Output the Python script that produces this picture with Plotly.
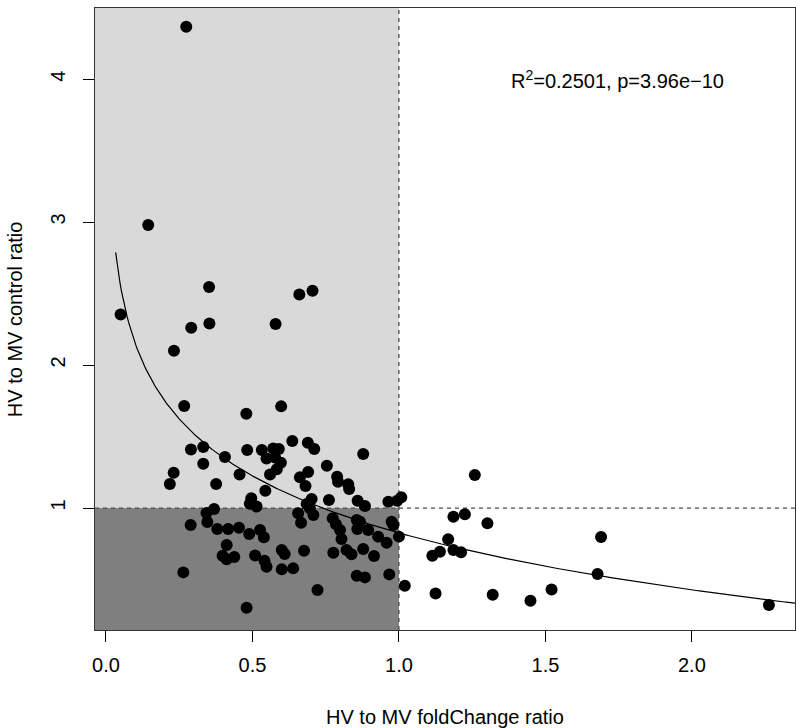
import numpy as np
import plotly.graph_objects as go

# ---- data ----
fold_change_ratio = [
    0.274, 0.144, 0.050, 0.352, 0.660, 0.705, 0.291, 0.353, 0.579, 0.232,
    0.267, 0.479, 0.598, 0.290, 0.332, 0.406, 0.482, 0.532, 0.571, 0.590,
    0.636, 0.689, 0.711, 0.548, 0.577, 0.597, 0.583, 0.560, 0.332, 0.231,
    0.218, 0.376, 0.456, 0.544, 0.496, 0.491, 0.514, 0.878, 0.754, 0.690,
    0.662, 0.681, 0.789, 0.792, 0.827, 0.830, 0.702, 0.685, 0.696, 0.761,
    0.859, 0.884, 0.964, 0.994, 1.008, 1.259,
    0.343, 0.369, 0.289, 0.346, 0.380, 0.417, 0.454, 0.489, 0.526, 0.539,
    0.412, 0.398, 0.412, 0.438, 0.509, 0.541, 0.548, 0.264, 0.480, 0.600,
    0.610, 0.676, 0.600, 0.639, 0.656, 0.666, 0.708, 0.774, 0.785, 0.799,
    0.804, 0.856, 0.867, 0.858, 0.895, 0.929, 0.958, 0.975, 0.981, 1.000,
    0.776, 0.821, 0.838, 0.878, 0.915, 0.856, 0.884, 0.967, 0.722, 1.020,
    1.186, 1.225, 1.302, 1.168, 1.186, 1.212, 1.140, 1.114, 1.125, 1.320,
    1.449, 1.521, 1.690, 1.678, 2.263,
]
control_ratio = [
    4.366, 2.980, 2.354, 2.545, 2.494, 2.520, 2.261, 2.290, 2.287, 2.100,
    1.713, 1.659, 1.711, 1.410, 1.427, 1.357, 1.406, 1.406, 1.417, 1.413,
    1.469, 1.457, 1.413, 1.347, 1.354, 1.317, 1.271, 1.235, 1.310, 1.247,
    1.168, 1.168, 1.235, 1.121, 1.068, 1.030, 1.010, 1.378, 1.296, 1.252,
    1.215, 1.154, 1.219, 1.184, 1.166, 1.133, 1.063, 1.028, 0.998, 1.056,
    1.051, 1.014, 1.044, 1.051, 1.075, 1.231,
    0.965, 0.993, 0.881, 0.902, 0.853, 0.853, 0.862, 0.818, 0.846, 0.795,
    0.741, 0.666, 0.641, 0.657, 0.668, 0.632, 0.590, 0.550, 0.303, 0.706,
    0.678, 0.701, 0.571, 0.578, 0.963, 0.897, 0.951, 0.928, 0.886, 0.846,
    0.783, 0.916, 0.904, 0.853, 0.846, 0.800, 0.757, 0.904, 0.881, 0.800,
    0.687, 0.706, 0.676, 0.713, 0.664, 0.527, 0.515, 0.536, 0.427, 0.457,
    0.939, 0.956, 0.893, 0.781, 0.706, 0.690, 0.694, 0.666, 0.403, 0.394,
    0.352, 0.431, 0.797, 0.538, 0.322,
]

x_tick_values = [0.0, 0.5, 1.0, 1.5, 2.0]
x_tick_labels = ["0.0", "0.5", "1.0", "1.5", "2.0"]
y_tick_values = [1, 2, 3, 4]
y_tick_labels = ["1", "2", "3", "4"]

fit_intercept = 0.826      # y = a + b*log(x)
fit_slope = -0.575
curve_x_start = 0.033
curve_x_end = 2.5
threshold = 1.0
stats_text = "R<sup>2</sup>=0.2501, p=3.96e\u221210"
stats_pos = (1.745, 4.0)
x_title = "HV to MV foldChange ratio"
y_title = "HV to MV control ratio"

x_range = [-0.0375, 2.352]
y_range = [0.147, 4.497]

FONT = "Liberation Sans, Arial, Helvetica, sans-serif"
FS = 20

# ---- figure ----
curve_x = np.linspace(curve_x_start, curve_x_end, 500)
curve_y = fit_intercept + fit_slope * np.log(curve_x)

fig = go.Figure()
fig.add_trace(go.Scatter(
    x=curve_x, y=curve_y, mode="lines",
    line=dict(color="black", width=1.2), hoverinfo="skip", showlegend=False,
))
fig.add_trace(go.Scatter(
    x=fold_change_ratio, y=control_ratio, mode="markers",
    marker=dict(color="black", size=12, line=dict(width=0)), showlegend=False,
))

dash_style = dict(color="#4d4d4d", width=1.3, dash="4px,4px")
shapes = [
    dict(type="rect", xref="x", yref="y", x0=x_range[0], x1=threshold,
         y0=threshold, y1=y_range[1], fillcolor="#d9d9d9", line=dict(width=0), layer="below"),
    dict(type="rect", xref="x", yref="y", x0=x_range[0], x1=threshold,
         y0=y_range[0], y1=threshold, fillcolor="#7f7f7f", line=dict(width=0), layer="below"),
    dict(type="line", xref="x", yref="y", x0=threshold, x1=threshold,
         y0=y_range[0], y1=y_range[1], line=dash_style, layer="below"),
    dict(type="line", xref="x", yref="y", x0=x_range[0], x1=x_range[1],
         y0=threshold, y1=threshold, line=dash_style, layer="below"),
]

fig.update_layout(
    width=796, height=728,
    margin=dict(l=95, r=1, t=8, b=98),
    paper_bgcolor="white", plot_bgcolor="white",
    font=dict(family=FONT, size=FS, color="black"),
    shapes=shapes,
    annotations=[
        dict(x=stats_pos[0], y=stats_pos[1], xref="x", yref="y",
             text=stats_text, showarrow=False, xanchor="center", yanchor="middle",
             font=dict(family=FONT, size=FS, color="black")),
        dict(x=0.5, y=-0.14, xref="paper", yref="paper", text=x_title,
             showarrow=False, xanchor="center", yanchor="middle",
             font=dict(family=FONT, size=FS, color="black")),
        dict(x=-0.114, y=0.5, xref="paper", yref="paper", text=y_title,
             textangle=-90, showarrow=False, xanchor="center", yanchor="middle",
             font=dict(family=FONT, size=FS, color="black")),
    ],
    xaxis=dict(
        range=x_range, tickvals=x_tick_values, ticktext=x_tick_labels,
        ticks="outside", ticklen=11, tickwidth=1, tickcolor="black",
        showline=True, mirror=True, linecolor="#333333", linewidth=1.3,
        showgrid=False, zeroline=False, ticklabelstandoff=6, automargin=False,
    ),
    yaxis=dict(
        range=y_range, tickvals=y_tick_values, ticktext=y_tick_labels,
        ticks="outside", ticklen=11, tickwidth=1, tickcolor="black",
        showline=True, mirror=True, linecolor="#333333", linewidth=1.3,
        showgrid=False, zeroline=False, tickangle=-90, ticklabelstandoff=10,
        automargin=False,
    ),
)

fig.write_html(
    "out.html",
    config={"displayModeBar": False},
    post_script="document.body.style.margin='0';document.body.style.overflow='hidden';",
)
